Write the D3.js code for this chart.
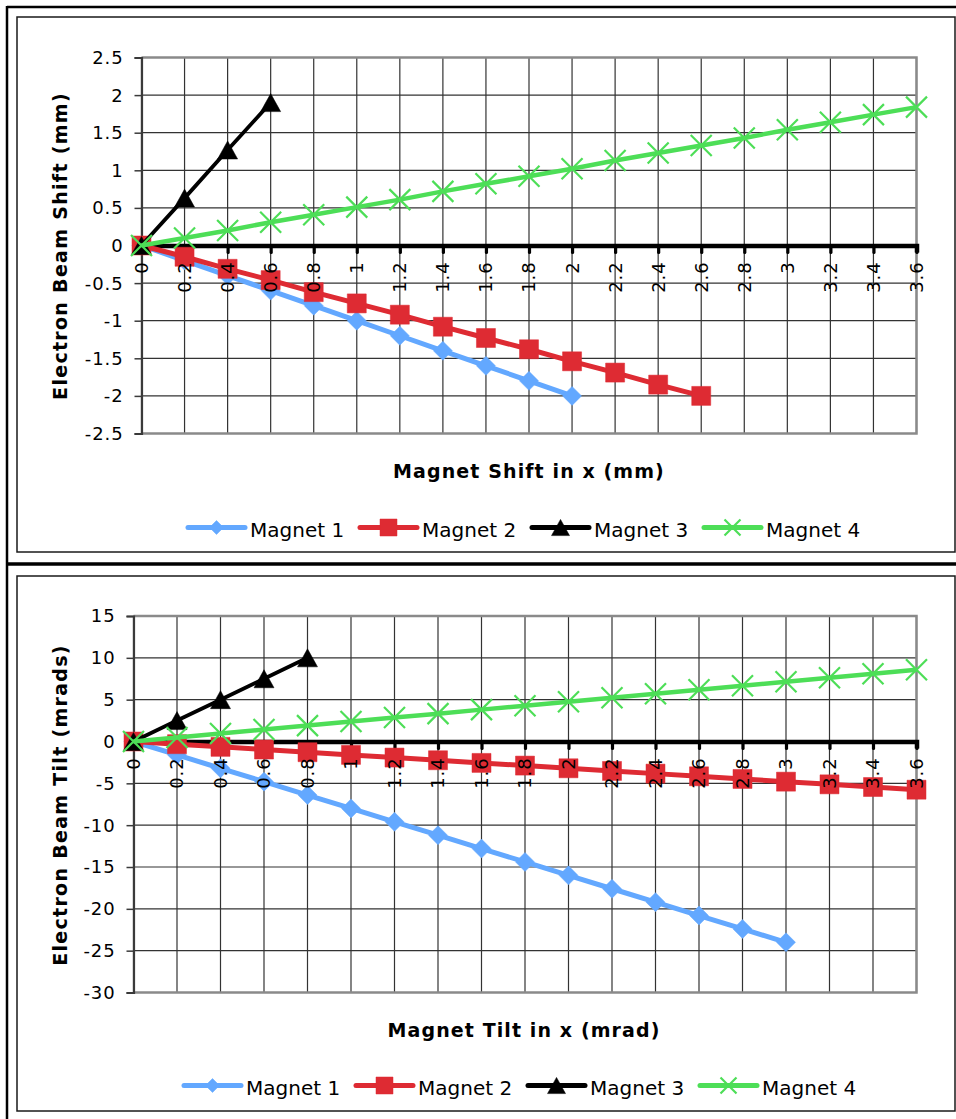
<!DOCTYPE html>
<html><head><meta charset="utf-8">
<script src="https://cdn.jsdelivr.net/npm/d3@7"></script>
<style>
html,body{margin:0;padding:0;background:#fff;}
svg{display:block;}
text{font-family:"DejaVu Sans",Verdana,sans-serif;fill:#000;}
</style></head><body>
<svg id="chart" width="956" height="1119"></svg>
<script>
// ---------------- DATA ----------------
const xTicks = [0,0.2,0.4,0.6,0.8,1,1.2,1.4,1.6,1.8,2,2.2,2.4,2.6,2.8,3,3.2,3.4,3.6];
const xTickLabels = ["0","0.2","0.4","0.6","0.8","1","1.2","1.4","1.6","1.8","2","2.2","2.4","2.6","2.8","3","3.2","3.4","3.6"];
const seriesNames = ["Magnet 1","Magnet 2","Magnet 3","Magnet 4"];

// Chart 1: Electron Beam Shift vs Magnet Shift
const shiftYTicks = [2.5,2,1.5,1,0.5,0,-0.5,-1,-1.5,-2,-2.5];
const shiftYTickLabels = ["2.5","2","1.5","1","0.5","0","-0.5","-1","-1.5","-2","-2.5"];
const shiftM1x = [0,0.2,0.4,0.6,0.8,1,1.2,1.4,1.6,1.8,2];
const shiftM1y = [0,-0.2,-0.4,-0.6,-0.8,-1,-1.2,-1.4,-1.6,-1.8,-2];
const shiftM2x = [0,0.2,0.4,0.6,0.8,1,1.2,1.4,1.6,1.8,2,2.2,2.4,2.6];
const shiftM2y = [0,-0.15,-0.31,-0.46,-0.62,-0.77,-0.92,-1.08,-1.23,-1.38,-1.54,-1.69,-1.85,-2.0];
const shiftM3x = [0,0.2,0.4,0.6];
const shiftM3y = [0,0.63,1.27,1.9];
const shiftM4x = [0,0.2,0.4,0.6,0.8,1,1.2,1.4,1.6,1.8,2,2.2,2.4,2.6,2.8,3,3.2,3.4,3.6];
const shiftM4y = [0,0.10,0.20,0.31,0.41,0.51,0.61,0.72,0.82,0.92,1.02,1.13,1.23,1.33,1.43,1.54,1.64,1.74,1.84];

// Chart 2: Electron Beam Tilt vs Magnet Tilt
const tiltYTicks = [15,10,5,0,-5,-10,-15,-20,-25,-30];
const tiltYTickLabels = ["15","10","5","0","-5","-10","-15","-20","-25","-30"];
const tiltM1x = [0,0.2,0.4,0.6,0.8,1,1.2,1.4,1.6,1.8,2,2.2,2.4,2.6,2.8,3];
const tiltM1y = [0,-1.6,-3.2,-4.8,-6.4,-8,-9.6,-11.2,-12.8,-14.4,-16,-17.6,-19.2,-20.8,-22.4,-24];
const tiltM2x = [0,0.2,0.4,0.6,0.8,1,1.2,1.4,1.6,1.8,2,2.2,2.4,2.6,2.8,3,3.2,3.4,3.6];
const tiltM2y = [0,-0.32,-0.64,-0.96,-1.28,-1.6,-1.92,-2.24,-2.56,-2.88,-3.2,-3.52,-3.84,-4.16,-4.48,-4.8,-5.12,-5.44,-5.76];
const tiltM3x = [0,0.2,0.4,0.6,0.8];
const tiltM3y = [0,2.5,5,7.5,10];
const tiltM4x = [0,0.2,0.4,0.6,0.8,1,1.2,1.4,1.6,1.8,2,2.2,2.4,2.6,2.8,3,3.2,3.4,3.6];
const tiltM4y = [0,0.48,0.95,1.43,1.9,2.38,2.86,3.33,3.81,4.28,4.76,5.24,5.71,6.19,6.66,7.14,7.62,8.09,8.57];

// ---------------- STYLE ----------------
const colors = ["#63A8FF","#DE2B33","#000000","#4DDE57"];
const lineWidths = [5,5,3.8,4.5];
const markers = ["diamond","square","triangle","x"];

const svg = d3.select("#chart");

// panel frames
svg.append("line").attr("x1",7).attr("y1",7).attr("x2",960).attr("y2",7).attr("stroke","#000").attr("stroke-width",2.5);
svg.append("line").attr("x1",7).attr("y1",6).attr("x2",7).attr("y2",1119).attr("stroke","#000").attr("stroke-width",2.5);
svg.append("line").attr("x1",7).attr("y1",564).attr("x2",960).attr("y2",564).attr("stroke","#000").attr("stroke-width",3.5);

function markerPath(type, s){
  if(type==="diamond") return `M0,${-s}L${s},0L0,${s}L${-s},0Z`;
  if(type==="square") return `M${-s},${-s}H${s}V${s}H${-s}Z`;
  if(type==="triangle"){ const h=s*0.9; return `M0,${-h}L${s},${h}L${-s},${h}Z`; }
  return `M${-s},${-s}L${s},${s}M${-s},${s}L${s},${-s}`;
}
function drawMarker(g, type, color, s){
  const p = g.append("path").attr("d", markerPath(type, s));
  if(type==="x") p.attr("fill","none").attr("stroke",color).attr("stroke-width",2.2);
  else p.attr("fill",color).attr("stroke",color).attr("stroke-width",0.5);
  return p;
}

function drawChart(cfg){
  const g = svg.append("g");
  g.append("rect").attr("x",cfg.box[0]).attr("y",cfg.box[1]).attr("width",cfg.box[2]-cfg.box[0]).attr("height",cfg.box[3]-cfg.box[1])
    .attr("fill","#fff").attr("stroke","#1a1a1a").attr("stroke-width",1.5);

  const x = d3.scaleLinear().domain([0,3.6]).range([cfg.plot.left,cfg.plot.right]);
  const y = d3.scaleLinear().domain(cfg.yDomain).range([cfg.plot.bottom,cfg.plot.top]);

  // gridlines
  g.append("g").selectAll("line").data(cfg.yTicks).join("line")
    .attr("x1",cfg.plot.left).attr("x2",cfg.plot.right)
    .attr("y1",d=>y(d)).attr("y2",d=>y(d)).attr("stroke","#333").attr("stroke-width",1.2);
  g.append("g").selectAll("line").data(xTicks).join("line")
    .attr("x1",d=>x(d)).attr("x2",d=>x(d))
    .attr("y1",cfg.plot.top).attr("y2",cfg.plot.bottom).attr("stroke","#333").attr("stroke-width",1.2);

  g.append("path").attr("d",`M${cfg.plot.left},${cfg.plot.top}H${cfg.plot.right}V${cfg.plot.bottom}H${cfg.plot.left}`)
    .attr("fill","none").attr("stroke","#8a8a8a").attr("stroke-width",2.5);

  // y axis
  const yAxis = d3.axisLeft(y).tickValues(cfg.yTicks).tickSize(7).tickFormat(()=> "");
  const ya = g.append("g").attr("transform",`translate(${cfg.plot.left},0)`).call(yAxis);
  ya.select(".domain").attr("stroke","#3a3a3a").attr("stroke-width",2.2);
  ya.selectAll(".tick line").attr("stroke","#3a3a3a").attr("stroke-width",1.5);
  g.append("g").selectAll("text").data(cfg.yTicks).join("text")
    .attr("x",cfg.plot.left-18).attr("y",d=>y(d)).attr("dy","0.36em")
    .attr("text-anchor","end").attr("font-size",18).attr("letter-spacing","0.9px")
    .text((d,i)=>cfg.yTickLabels[i]);

  // x axis at y=0
  const y0 = y(0);
  const xAxis = d3.axisBottom(x).tickValues(xTicks).tickSize(7).tickFormat(()=> "");
  const xa = g.append("g").attr("transform",`translate(0,${y0})`).call(xAxis);
  xa.select(".domain").attr("stroke","#000").attr("stroke-width",4.5);
  xa.selectAll(".tick line").attr("stroke","#000").attr("stroke-width",3.2).attr("stroke-linecap","round");

  // series
  cfg.series.forEach((s,i)=>{
    const pts = s.x.map((v,j)=>[x(v), y(s.y[j])]);
    g.append("path").attr("d", d3.line()(pts)).attr("fill","none")
      .attr("stroke",colors[i]).attr("stroke-width",lineWidths[i]).attr("stroke-linejoin","round");
    const sz = markers[i]==="diamond"?9.5:(markers[i]==="square"?9.5:(markers[i]==="triangle"?10:10.5));
    pts.forEach(p=>{
      const mg = g.append("g").attr("transform",`translate(${p[0]},${p[1]})`);
      drawMarker(mg, markers[i], colors[i], sz);
    });
  });

  // x tick labels (rotated)
  g.append("g").selectAll("text").data(xTicks).join("text")
    .attr("transform",d=>`translate(${x(d)},${y0+16}) rotate(-90)`)
    .attr("dy","0.36em").attr("text-anchor","end").attr("font-size",18).attr("letter-spacing","0.9px")
    .text((d,i)=>xTickLabels[i]);

  // axis titles
  g.append("text").attr("x",cfg.xTitlePos[0]).attr("y",cfg.xTitlePos[1]).attr("text-anchor","middle")
    .attr("font-size",19).attr("font-weight","bold").attr("letter-spacing","1.1px").text(cfg.xTitle);
  g.append("text").attr("transform",`translate(${cfg.yTitlePos[0]},${cfg.yTitlePos[1]}) rotate(-90)`)
    .attr("text-anchor","middle").attr("font-size",19).attr("font-weight","bold").attr("letter-spacing","1.3px").text(cfg.yTitle);

  // legend
  seriesNames.forEach((name,i)=>{
    const lx = cfg.legend.x + i*172, ly = cfg.legend.y;
    g.append("line").attr("x1",lx).attr("x2",lx+57).attr("y1",ly).attr("y2",ly)
      .attr("stroke",colors[i]).attr("stroke-width",5).attr("stroke-linecap","round");
    const mg = g.append("g").attr("transform",`translate(${lx+28.5},${ly})`);
    const ls = markers[i]==="diamond"?7:(markers[i]==="square"?8.5:(markers[i]==="triangle"?9:8));
    drawMarker(mg, markers[i], colors[i], ls);
    g.append("text").attr("x",lx+62).attr("y",ly+9.5).attr("font-size",20).text(name);
  });
}

drawChart({
  box:[17,17,955,552],
  plot:{left:141.5,right:916.5,top:57.5,bottom:433.5},
  yDomain:[-2.5,2.5], yTicks:shiftYTicks, yTickLabels:shiftYTickLabels,
  series:[{x:shiftM1x,y:shiftM1y},{x:shiftM2x,y:shiftM2y},{x:shiftM3x,y:shiftM3y},{x:shiftM4x,y:shiftM4y}],
  xTitle:"Magnet Shift in x (mm)", xTitlePos:[529,478],
  yTitle:"Electron Beam Shift (mm)", yTitlePos:[67,246],
  legend:{x:188,y:527.5}
});

drawChart({
  box:[17,576,955,1111],
  plot:{left:133.5,right:916.5,top:616,bottom:992.5},
  yDomain:[-30,15], yTicks:tiltYTicks, yTickLabels:tiltYTickLabels,
  series:[{x:tiltM1x,y:tiltM1y},{x:tiltM2x,y:tiltM2y},{x:tiltM3x,y:tiltM3y},{x:tiltM4x,y:tiltM4y}],
  xTitle:"Magnet Tilt in x (mrad)", xTitlePos:[524,1037],
  yTitle:"Electron Beam Tilt (mrads)", yTitlePos:[67,805],
  legend:{x:184,y:1085.5}
});
</script>
</body></html>
